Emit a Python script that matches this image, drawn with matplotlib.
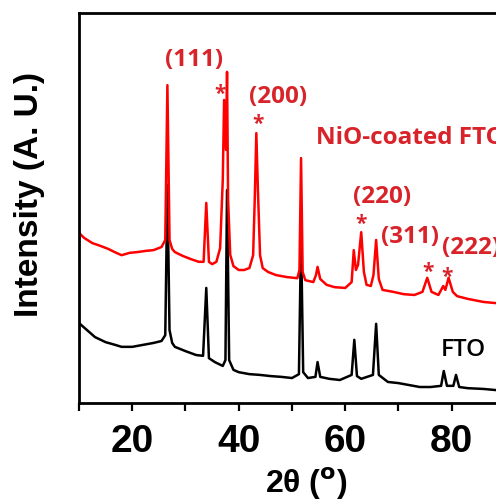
import matplotlib
matplotlib.use('Agg')
import matplotlib.pyplot as plt
from matplotlib.ticker import MultipleLocator

# FTO substrate scan (2theta, intensity a.u.)
fto_2theta = [10, 11.5, 13, 15, 16.8, 18, 20, 22, 24, 25.5, 26.2, 26.6, 27.0, 27.5, 28,
              30, 32, 33.3, 33.9, 34.4, 35.5, 37, 37.5, 37.8, 38.2, 39, 40, 42, 44, 46,
              48, 50, 51.3, 51.7, 52.1, 53, 54.4, 54.8, 55.3, 57, 59, 61.2, 61.7, 62.2,
              63, 65.2, 65.8, 66.3, 68, 70, 72, 74, 76, 78, 78.5, 79.1, 80.3, 80.8, 81.4,
              83, 86, 90]
fto_int = [20.5, 18.7, 16.9, 15.6, 14.9, 14.4, 14.4, 14.9, 15.4, 15.9, 17.4, 55.9, 18.7, 15.4, 14.4,
           13.3, 12.3, 12.1, 29.5, 11.5, 10.5, 9.5, 11.0, 54.6, 11.0, 8.5, 7.9, 7.4, 7.2, 6.9,
           6.7, 6.4, 7.4, 43.1, 7.9, 6.4, 6.7, 10.5, 6.7, 6.2, 5.9, 7.2, 16.2, 6.9,
           6.2, 7.2, 20.3, 7.2, 5.4, 5.1, 4.6, 4.1, 4.1, 4.4, 8.2, 4.4, 4.4, 7.2, 4.1,
           3.8, 3.6, 3.1]

# NiO-coated FTO scan
nio_2theta = [10, 11, 12.5, 14, 15.5, 17, 18, 19.5, 21, 22.5, 24, 25.5, 26.2, 26.6, 27.0,
              27.5, 28, 29.5, 31, 32.5, 33.4, 33.9, 34.4, 35, 35.8, 36.5, 37.0, 37.25, 37.6,
              37.8, 38.0, 38.4, 39, 40, 41, 42, 42.7, 43.0, 43.3, 43.6, 44.0, 44.5, 45.5,
              47, 49, 51, 51.4, 51.7, 52.0, 52.5, 54, 54.5, 54.8, 55.3, 56.5, 58, 60, 61.2,
              61.6, 62.0, 62.4, 63.0, 63.5, 64, 64.8, 65.3, 65.8, 66.3, 67, 69, 71, 73, 74.5,
              75.4, 76.2, 77.5, 78.4, 78.8, 79.4, 80.2, 81, 83, 86, 90]
nio_int = [43.6, 42.3, 41.0, 40.3, 39.5, 38.5, 37.9, 38.5, 38.7, 39.0, 39.2, 40.0, 41.8, 81.5, 41.8,
           39.5, 38.7, 37.7, 36.9, 36.2, 36.2, 51.3, 36.2, 35.6, 36.2, 39.7, 57.2, 77.7, 64.9,
           84.9, 52.0, 38.0, 35.1, 34.1, 34.1, 34.6, 37.9, 52.0, 69.2, 54.6, 37.9, 34.6, 33.6,
           32.8, 32.3, 32.0, 34.1, 62.8, 33.6, 31.5, 31.0, 32.8, 34.9, 31.8, 30.3, 29.7, 29.5, 31.0,
           39.2, 34.1, 35.4, 43.8, 33.6, 30.3, 30.0, 32.8, 41.8, 31.8, 29.0, 28.5, 27.9, 27.7, 28.5,
           32.1, 28.5, 27.7, 30.0, 29.0, 32.1, 28.5, 27.4, 26.7, 25.9, 25.4]

# peak labels: (text, 2theta, intensity)
hkl_labels = [('(111)', 31.6, 88.0), ('(200)', 47.3, 78.5), ('(220)', 67.0, 52.8),
              ('(311)', 72.1, 42.6)]
star_pos = [(36.4, 79.2), (43.6, 71.5), (62.9, 45.9), (75.5, 33.6), (79.2, 32.3)]

red_txt = '#d8232a'

fig = plt.figure(figsize=(4.96, 5.03), dpi=100)
ax = fig.add_axes([79/496, 100/503, 426/496, 390/503])

ax.plot(fto_2theta, fto_int, color='black', lw=1.8)
ax.plot(nio_2theta, nio_int, color='red', lw=1.8)

lbl_kw = dict(color=red_txt, fontsize=17.5, fontfamily='Open Sans', fontweight='bold', va='center')
for txt, x, y in hkl_labels:
    ax.text(x, y, txt, ha='center', **lbl_kw)
ax.text(78.1, 39.7, '(222)', ha='left', **lbl_kw)
for x, y in star_pos:
    ax.text(x, y, '*', color=red_txt, fontsize=15, fontfamily='Open Sans',
            fontweight='bold', ha='center', va='center')
ax.text(54.5, 68.0, 'NiO-coated FTO', ha='left', **lbl_kw)
ax.text(82.2, 13.6, 'FTO', color='black', fontsize=17.5, fontfamily='Open Sans',
        fontweight='semibold', ha='center', va='center')

ax.set_xlim(10, 90)
ax.set_ylim(0, 100)
ax.set_yticks([])
ax.xaxis.set_major_locator(MultipleLocator(20))
ax.xaxis.set_minor_locator(MultipleLocator(10))
ax.tick_params(axis='x', which='both', direction='out', width=1.6, length=6, pad=9)
for lab in ax.get_xticklabels():
    lab.set_fontfamily('Liberation Sans')
    lab.set_fontweight('bold')
    lab.set_fontsize(28)
for sp in ax.spines.values():
    sp.set_linewidth(2)

plt.rcParams['mathtext.fontset'] = 'custom'
plt.rcParams['mathtext.bf'] = 'Liberation Sans:bold'
plt.rcParams['mathtext.rm'] = 'Liberation Sans'
ax.set_xlabel(r'2θ ($\mathbf{^o}$)', fontsize=23, fontweight='bold', fontfamily='Liberation Sans')
ax.xaxis.set_label_coords((306 - 79) / 426, (403 - 466) / 390)
ax.set_ylabel('Intensity (A. U.)', fontsize=24, fontweight='bold', fontfamily='Liberation Sans')
ax.yaxis.set_label_coords((45 - 79) / 426, (403 - 194.5) / 390)

fig.savefig('out.png', dpi=100)
